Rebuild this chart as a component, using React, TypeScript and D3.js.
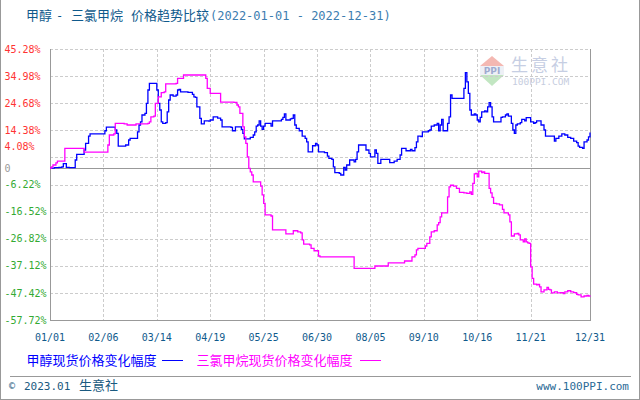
import React from "react";
import * as d3 from "d3";

type Pt = [string, number];

// 甲醇现货价格变化幅度 (%), 2022
const methanol: Pt[] = [
  ["01-01", 0], ["01-04", 0.2], ["01-07", 0.3], ["01-09", 0.5], ["01-10", 1.7], ["01-12", 0.3],
  ["01-14", 0.2], ["01-17", 0.2], ["01-18", 3.1], ["01-19", 5.2], ["01-23", 5.2], ["01-24", 6.9],
  ["01-25", 9.4], ["01-27", 12.2], ["01-28", 13.0], ["02-06", 13.0], ["02-07", 14.2], ["02-08", 15.6],
  ["02-12", 15.6], ["02-14", 14.5], ["02-15", 13.2], ["02-16", 8.4], ["02-21", 8.8], ["02-23", 10.7],
  ["02-24", 11.3], ["02-27", 11.3], ["03-01", 13.8], ["03-02", 16.4], ["03-03", 17.6], ["03-04", 20.2],
  ["03-06", 20.8], ["03-07", 24.6], ["03-08", 29.7], ["03-09", 32.2], ["03-13", 32.2], ["03-14", 29.7],
  ["03-15", 24.6], ["03-16", 22.1], ["03-17", 17.6], ["03-18", 17.0], ["03-20", 17.3], ["03-21", 21.4],
  ["03-22", 25.9], ["03-23", 27.8], ["03-25", 27.4], ["03-27", 27.8], ["03-28", 29.7], ["03-29", 29.9],
  ["03-30", 29.0], ["04-04", 28.8], ["04-07", 28.0], ["04-08", 27.1], ["04-09", 26.9], ["04-10", 23.3],
  ["04-12", 18.9], ["04-13", 16.8], ["04-15", 18.0], ["04-18", 17.9], ["04-19", 18.3], ["04-21", 19.5],
  ["04-24", 19.0], ["04-26", 18.3], ["04-27", 15.7], ["05-03", 15.5], ["05-04", 14.2], ["05-06", 15.7],
  ["05-08", 15.7], ["05-10", 14.7], ["05-11", 13.2], ["05-12", 11.1], ["05-15", 11.1], ["05-16", 11.7],
  ["05-18", 12.6], ["05-19", 13.8], ["05-20", 16.0], ["05-21", 16.4], ["05-22", 18.0], ["05-23", 16.0],
  ["05-24", 14.7], ["05-25", 16.0], ["05-26", 17.0], ["05-29", 17.0], ["05-30", 16.0], ["05-31", 18.0],
  ["06-05", 18.0], ["06-06", 18.5], ["06-07", 19.3], ["06-08", 20.6], ["06-09", 18.3], ["06-12", 18.7],
  ["06-13", 18.9], ["06-14", 20.2], ["06-15", 16.4], ["06-16", 15.1], ["06-18", 14.2], ["06-20", 12.2],
  ["06-22", 11.3], ["06-23", 10.0], ["06-24", 6.2], ["06-26", 6.2], ["06-27", 8.5], ["06-29", 9.4],
  ["06-30", 8.8], ["07-01", 6.2], ["07-05", 5.9], ["07-07", 4.6], ["07-08", 3.7], ["07-10", 3.3],
  ["07-11", 0.5], ["07-12", -1.7], ["07-15", -2.0], ["07-16", -2.6], ["07-17", -2.6], ["07-18", 0.3],
  ["07-19", -0.7], ["07-20", 1.2], ["07-22", 3.1], ["07-25", 2.4], ["07-26", 3.3], ["07-27", 6.2],
  ["07-28", 8.8], ["07-31", 8.8], ["08-02", 6.9], ["08-04", 5.6], ["08-05", 4.3], ["08-07", 4.3],
  ["08-08", 6.9], ["08-09", 5.6], ["08-10", 1.8], ["08-12", 3.3], ["08-16", 3.3], ["08-18", 2.1],
  ["08-21", 2.7], ["08-23", 3.3], ["08-25", 5.0], ["08-26", 7.5], ["08-28", 7.5], ["08-29", 6.6],
  ["09-01", 7.1], ["09-02", 6.6], ["09-04", 7.8], ["09-05", 10.0], ["09-06", 12.2], ["09-08", 12.0],
  ["09-09", 13.8], ["09-13", 14.2], ["09-14", 14.5], ["09-15", 16.0], ["09-17", 16.4], ["09-19", 17.0],
  ["09-20", 14.2], ["09-21", 16.4], ["09-22", 18.5], ["09-23", 14.2], ["09-25", 14.2], ["09-26", 17.0],
  ["09-27", 19.5], ["09-28", 27.8], ["09-29", 26.5], ["10-06", 26.5], ["10-07", 30.3], ["10-08", 36.3],
  ["10-09", 32.8], ["10-10", 28.4], ["10-11", 22.1], ["10-12", 20.2], ["10-14", 20.6], ["10-15", 20.2],
  ["10-16", 18.3], ["10-17", 17.6], ["10-18", 19.3], ["10-19", 21.4], ["10-21", 21.8], ["10-22", 21.4],
  ["10-23", 23.3], ["10-24", 24.9], ["10-25", 23.3], ["10-26", 19.5], ["10-27", 17.6], ["10-31", 17.6],
  ["11-01", 19.3], ["11-02", 19.5], ["11-04", 20.2], ["11-05", 20.6], ["11-06", 19.8], ["11-08", 17.0],
  ["11-09", 14.5], ["11-10", 13.2], ["11-11", 16.4], ["11-12", 16.8], ["11-14", 17.3], ["11-15", 18.5],
  ["11-17", 18.0], ["11-18", 19.2], ["11-20", 19.2], ["11-21", 17.6], ["11-23", 17.0], ["11-24", 17.3],
  ["11-25", 18.0], ["11-27", 18.0], ["11-28", 16.4], ["11-30", 14.5], ["12-01", 12.2], ["12-06", 12.2],
  ["12-07", 10.3], ["12-08", 11.3], ["12-10", 12.2], ["12-12", 13.0], ["12-14", 12.6], ["12-16", 11.7],
  ["12-18", 11.3], ["12-20", 10.3], ["12-22", 9.7], ["12-23", 8.4], ["12-24", 7.9], ["12-26", 7.5],
  ["12-27", 10.0], ["12-29", 10.7], ["12-30", 11.9], ["12-31", 13.5],
];

// 三氯甲烷现货价格变化幅度 (%), 2022
const chloroform: Pt[] = [
  ["01-01", 0], ["01-02", 0.5], ["01-03", 1.2], ["01-05", 2.0], ["01-06", 2.7], ["01-10", 2.7],
  ["01-11", 7.5], ["01-23", 7.5], ["01-24", 6.1], ["02-08", 6.1], ["02-09", 8.8], ["02-10", 12.6],
  ["02-13", 13.0], ["02-14", 17.0], ["02-20", 16.8], ["02-22", 16.4], ["02-28", 16.8], ["03-08", 17.0],
  ["03-09", 17.6], ["03-10", 19.5], ["03-12", 19.8], ["03-13", 24.6], ["03-15", 27.1], ["03-17", 28.7],
  ["03-19", 29.0], ["03-20", 32.0], ["03-27", 32.2], ["03-28", 34.1], ["03-31", 34.1], ["04-01", 35.4],
  ["04-14", 35.4], ["04-16", 34.1], ["04-17", 30.3], ["04-19", 28.4], ["04-25", 28.4], ["04-26", 25.1],
  ["05-05", 25.0], ["05-07", 24.0], ["05-08", 23.3], ["05-09", 20.8], ["05-11", 15.7], ["05-12", 11.9],
  ["05-13", 9.4], ["05-14", 4.3], ["05-15", -0.1], ["05-16", -1.4], ["05-17", -2.6], ["05-18", -5.2],
  ["05-22", -5.2], ["05-23", -6.8], ["05-24", -10.2], ["05-25", -13.4], ["05-26", -17.8], ["05-30", -18.2],
  ["05-31", -23.5], ["06-08", -23.5], ["06-09", -25.0], ["06-13", -25.0], ["06-14", -23.8], ["06-17", -24.2],
  ["06-19", -24.6], ["06-20", -27.3], ["06-21", -28.9], ["06-25", -29.2], ["06-26", -30.5], ["06-28", -31.4],
  ["06-30", -31.4], ["07-01", -33.4], ["07-02", -33.7], ["07-24", -33.7], ["07-25", -38.1], ["08-07", -38.1],
  ["08-08", -37.2], ["08-16", -37.2], ["08-17", -36.0], ["08-27", -36.0], ["08-28", -35.3], ["09-01", -35.3],
  ["09-02", -33.7], ["09-04", -33.0], ["09-05", -31.1], ["09-06", -30.5], ["09-09", -30.5], ["09-11", -29.6],
  ["09-12", -28.6], ["09-14", -26.1], ["09-15", -24.2], ["09-17", -23.8], ["09-19", -21.6], ["09-20", -20.7],
  ["09-21", -18.5], ["09-22", -17.0], ["09-25", -17.0], ["09-26", -10.9], ["09-27", -7.1], ["09-28", -6.5],
  ["09-30", -6.8], ["10-02", -7.7], ["10-04", -9.2], ["10-07", -9.4], ["10-09", -9.6], ["10-11", -9.0],
  ["10-12", -10.0], ["10-13", -5.8], ["10-14", -2.2], ["10-15", -2.0], ["10-16", -3.3], ["10-17", -1.1],
  ["10-19", -1.7], ["10-20", -1.4], ["10-21", -2.0], ["10-23", -2.0], ["10-24", -7.7], ["10-25", -9.4],
  ["10-26", -11.1], ["10-27", -13.4], ["10-29", -13.6], ["10-31", -14.0], ["11-02", -15.7], ["11-03", -17.0],
  ["11-06", -17.8], ["11-07", -20.4], ["11-08", -25.8], ["11-10", -25.0], ["11-12", -24.8], ["11-13", -25.4],
  ["11-14", -27.3], ["11-16", -28.0], ["11-17", -26.9], ["11-18", -28.0], ["11-19", -28.4], ["11-20", -28.6],
  ["11-21", -37.5], ["11-22", -41.9], ["11-23", -44.1], ["11-25", -44.4], ["11-26", -44.2], ["11-27", -45.1],
  ["11-28", -47.0], ["11-30", -46.3], ["12-02", -45.3], ["12-03", -46.1], ["12-04", -46.3], ["12-05", -47.4],
  ["12-07", -47.0], ["12-09", -47.4], ["12-11", -47.3], ["12-13", -47.7], ["12-14", -47.0], ["12-16", -46.6],
  ["12-18", -47.0], ["12-20", -47.3], ["12-22", -48.0], ["12-23", -48.2], ["12-25", -48.9], ["12-27", -48.6],
  ["12-29", -48.4], ["12-30", -48.6], ["12-31", -48.4],
];

const yTicks = [45.28, 34.98, 24.68, 14.38, 4.08, 0, -6.22, -16.52, -26.82, -37.12, -47.42, -57.72];
const xTickLabels = ["01/01", "02/06", "03/14", "04/19", "05/25", "06/30", "08/05", "09/10", "10/16", "11/21", "12/31"];

const titleMain = ["甲醇", "-", "三氯甲烷", "价格趋势比较"];
const titleRange = "(2022-01-01 - 2022-12-31)";
const seriesNames = ["甲醇现货价格变化幅度", "三氯甲烷现货价格变化幅度"];

const YEAR = 2022;
const parseMD = (s: string) => new Date(YEAR, +s.slice(0, 2) - 1, +s.slice(3, 5));
const parseTick = (s: string) => new Date(YEAR, +s.slice(0, 2) - 1, +s.slice(3, 5));

const MONO = "'DejaVu Sans Mono', monospace";
const CJK = "'Noto Sans CJK SC', sans-serif";

export default function App() {
  const left = 50, right = 590, top = 49, bottom = 320;
  const x = d3.scaleTime().domain([new Date(YEAR, 0, 1), new Date(YEAR, 11, 31)]).range([left, right]);
  const y = d3.scaleLinear().domain([-57.72, 45.28]).range([bottom, top]);

  const line = d3
    .line<Pt>()
    .x((d) => x(parseMD(d[0])))
    .y((d) => y(d[1]))
    .curve(d3.curveStepAfter);

  const fmtY = (v: number) => (v === 0 ? "0" : `${v.toFixed(2)}%`);
  const yColor = (v: number) => (v > 0 ? "#ff3333" : v < 0 ? "#33aa33" : "#999999");

  return (
    <svg
      width={640}
      height={400}
      style={{ position: "absolute", left: 0, top: 0, background: "#fff" }}
      fontFamily={MONO}
    >
      <rect x={0} y={0} width={640} height={400} fill="#fff" />
      {/* outer frame */}
      <line x1={0.5} y1={0} x2={0.5} y2={399.5} stroke="#999" />
      <line x1={639.5} y1={0} x2={639.5} y2={399.5} stroke="#999" />
      <line x1={0} y1={399.5} x2={640} y2={399.5} stroke="#999" />

      {/* title */}
      <g fontFamily={CJK} fontSize={13} fill="#0f5a8c">
        <text x={26} y={19.5}>{titleMain[0]}</text>
        <text x={56} y={19.5} fontFamily={MONO} fontSize={12}>{titleMain[1]}</text>
        <text x={71} y={19.5}>{titleMain[2]}</text>
        <text x={131} y={19.5}>{titleMain[3]}</text>
      </g>
      <text x={210} y={19.5} fontSize={12} fill="#3c7db0">{titleRange}</text>

      {/* watermark */}
      <g>
        <polygon points="492,56 504,66 480,66" fill="#f4b8b2" />
        <rect x={480} y={66} width={24} height={9} fill="#eef0f6" />
        <text x={492} y={73.5} textAnchor="middle" fontSize={9} fontWeight="bold" fill="#9fabcf" fontFamily="'DejaVu Sans', sans-serif">PPI</text>
        <polygon points="480,75 504,75 492,86" fill="#c2e6c2" />
        <text x={511} y={71} fontFamily={CJK} fontSize={17} letterSpacing={3} fill="#c6cee3">生意社</text>
        <text x={512} y={84.5} fontSize={9.5} fill="#c6cde0">100PPI.COM</text>
      </g>

      {/* grid */}
      {yTicks.map((v) => {
        if (v === 0 || v === -57.72) return null;
        return (
          <line key={"gy" + v} x1={left} x2={right} y1={Math.round(y(v)) + 0.5} y2={Math.round(y(v)) + 0.5}
            stroke="#cccccc" strokeDasharray="3,2" />
        );
      })}
      {xTickLabels.map((t, i) => {
        if (i === 0 || i === xTickLabels.length - 1) return null;
        const px = Math.round(x(parseTick(t))) + 0.5;
        return <line key={"gx" + t} x1={px} x2={px} y1={top} y2={bottom} stroke="#cccccc" strokeDasharray="3,2" />;
      })}

      {/* axes */}
      <line x1={left + 0.5} x2={left + 0.5} y1={top} y2={bottom + 0.5} stroke="#999" />
      <line x1={right + 0.5} x2={right + 0.5} y1={top} y2={bottom + 0.5} stroke="#999" />
      <line x1={left} x2={right + 1} y1={bottom + 0.5} y2={bottom + 0.5} stroke="#999" />
      <line x1={left} x2={right + 1} y1={Math.round(y(0)) + 0.5} y2={Math.round(y(0)) + 0.5} stroke="#999" />

      {/* y labels */}
      {yTicks.map((v) => (
        <text key={"yl" + v} x={4.5} y={y(v) + 3.6 - (v === 4.08 ? 11 : 0)} fontSize={10} fill={yColor(v)}>
          {fmtY(v)}
        </text>
      ))}

      {/* x labels */}
      {xTickLabels.map((t) => (
        <text key={"xl" + t} x={x(parseTick(t))} y={340.6} fontSize={10} textAnchor="middle" fill="#0f5a8c">
          {t}
        </text>
      ))}

      {/* series */}
      <path d={line(methanol) || ""} fill="none" stroke="#0000ff" strokeWidth={1.3} />
      <path d={line(chloroform) || ""} fill="none" stroke="#ff00ff" strokeWidth={1.3} />

      {/* legend */}
      <text x={26.5} y={365} fontFamily={CJK} fontSize={13} fill="#0000ff">{seriesNames[0]}</text>
      <line x1={162} x2={183} y1={360.5} y2={360.5} stroke="#0000ff" />
      <text x={196.5} y={365} fontFamily={CJK} fontSize={13} fill="#ff00ff">{seriesNames[1]}</text>
      <line x1={360} x2={381} y1={360.5} y2={360.5} stroke="#ff00ff" />

      {/* footer */}
      <line x1={10} x2={631} y1={376.5} y2={376.5} stroke="#999" />
      <text x={9} y={389} fontSize={10} fill="#1a5a80">©</text>
      <text x={24} y={389.5} fontSize={11} fill="#1a5a80">2023.01</text>
      <text x={79} y={390} fontFamily={CJK} fontSize={13} fill="#1a5a80">生意社</text>
      <text x={629} y={390} fontSize={11} textAnchor="end" fill="#2a6a96">www.100PPI.com</text>
    </svg>
  );
}
